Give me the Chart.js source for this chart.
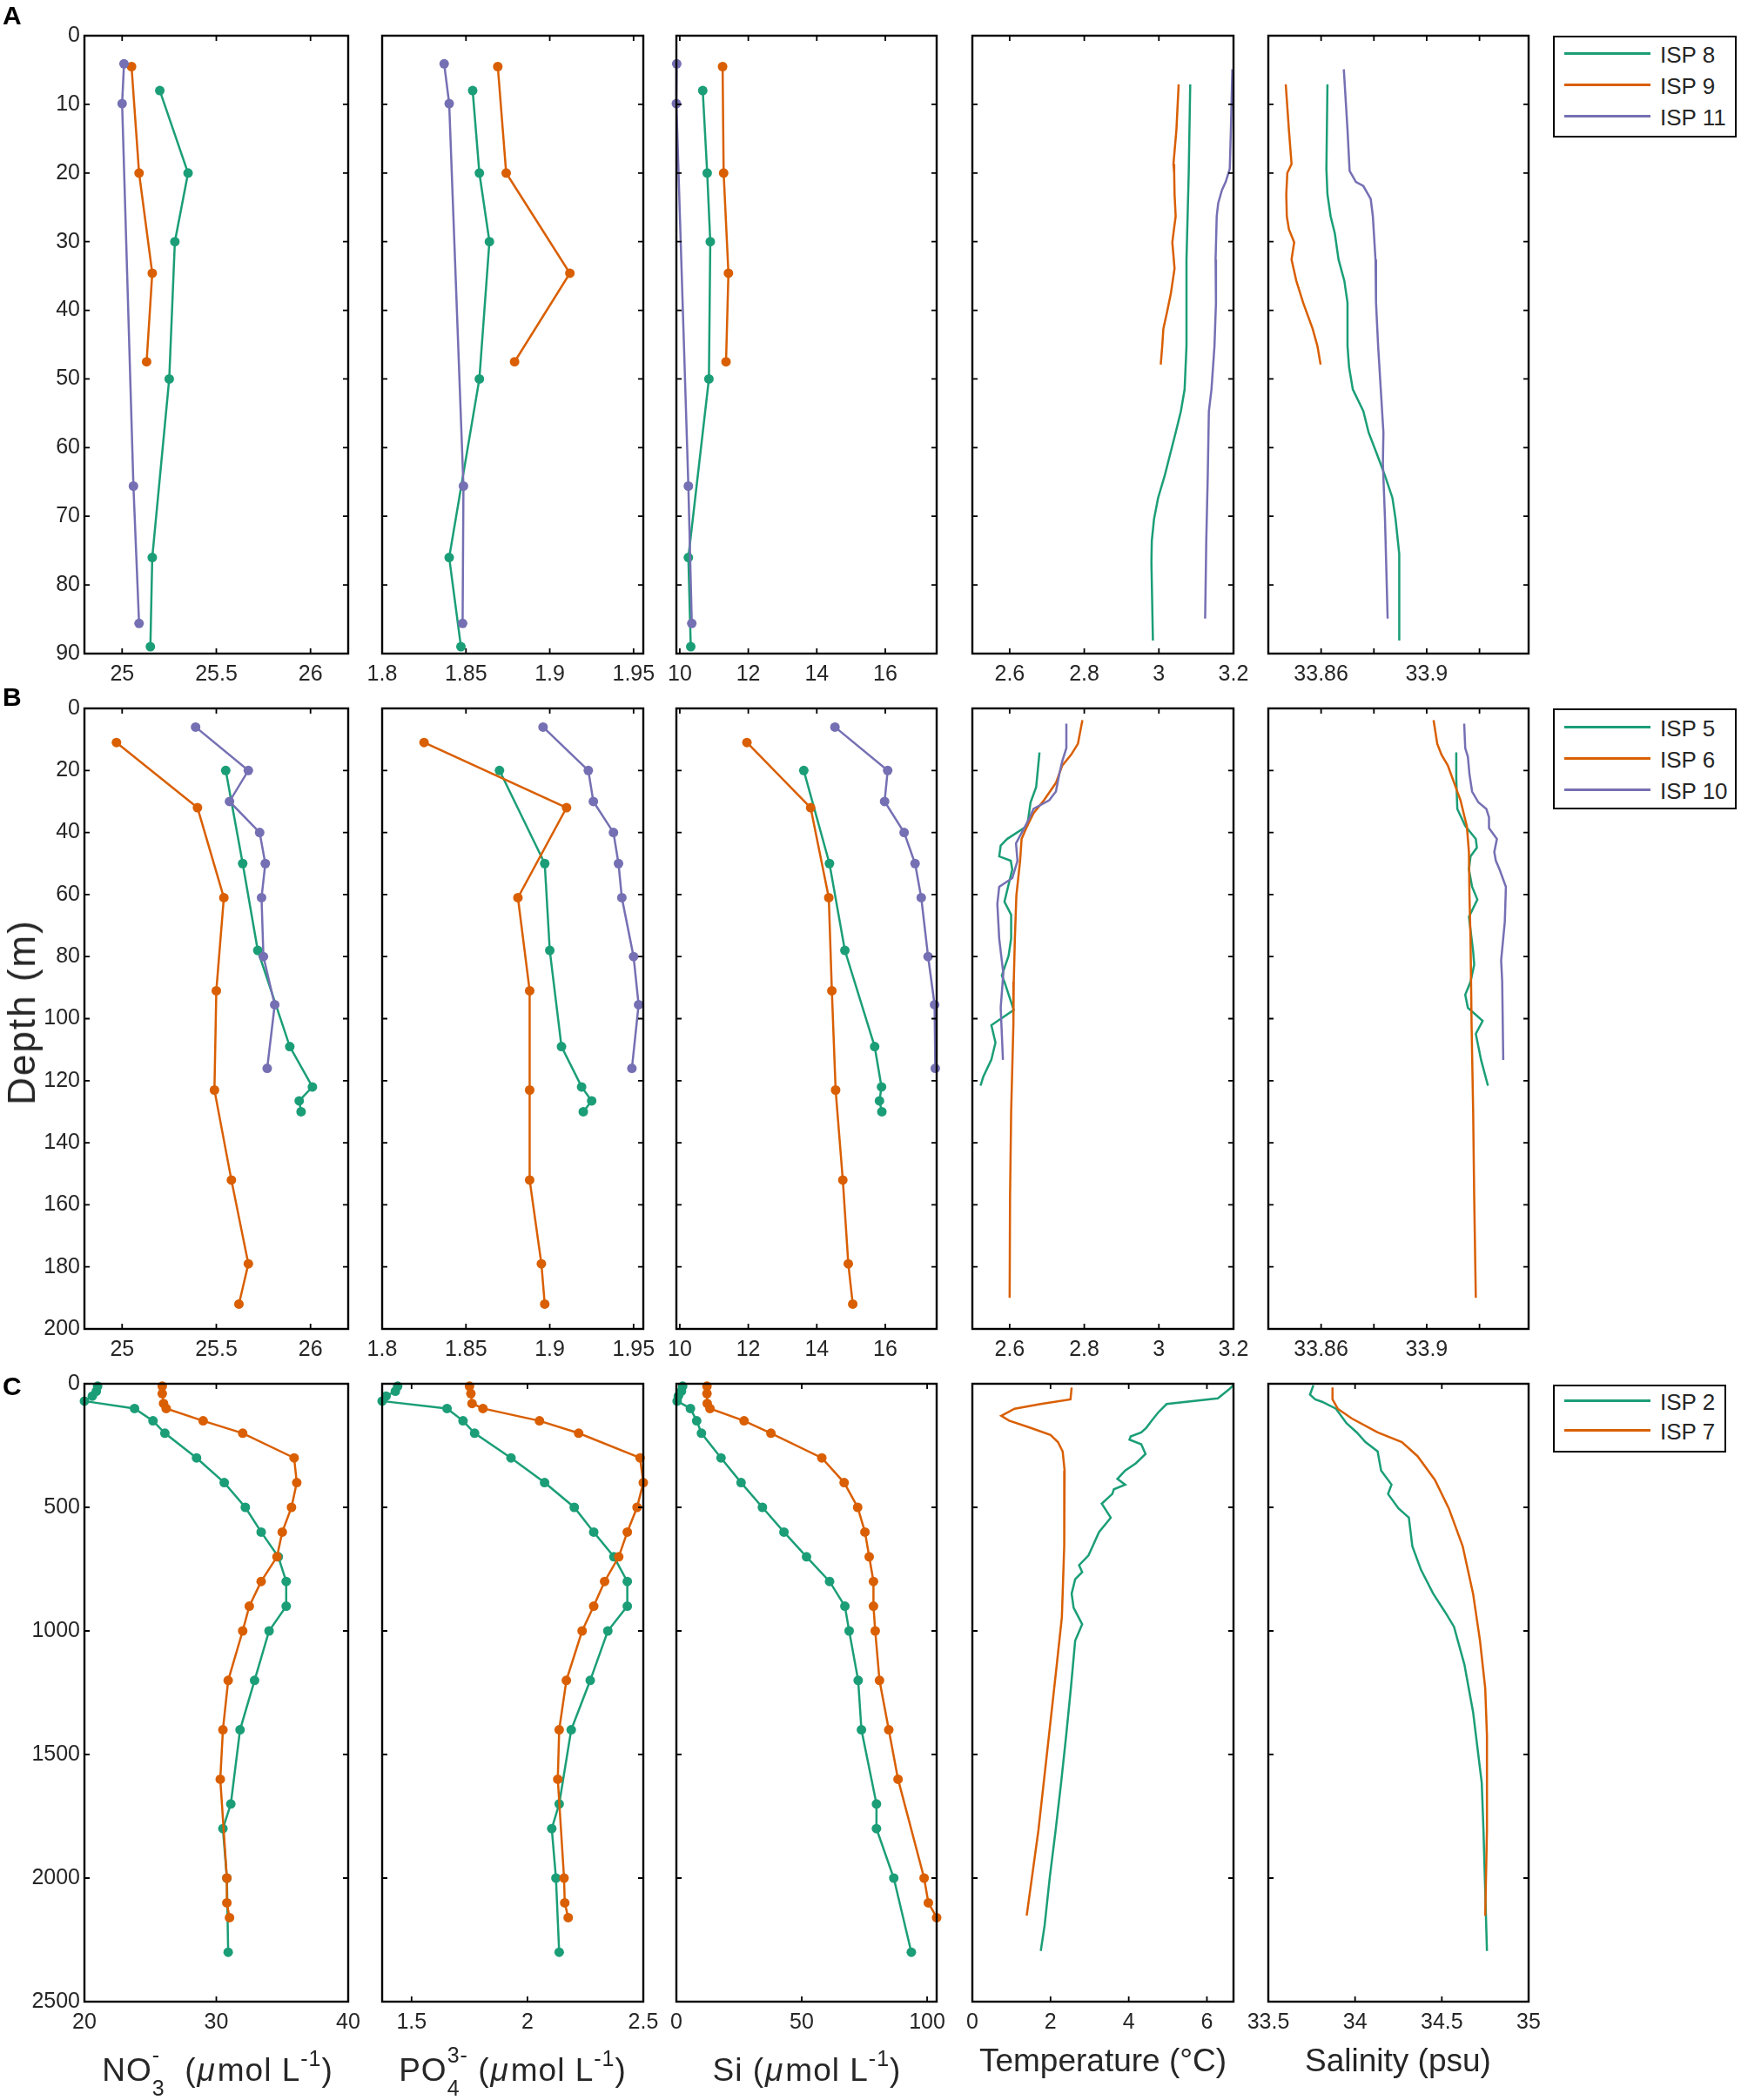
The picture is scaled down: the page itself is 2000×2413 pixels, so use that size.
<!DOCTYPE html>
<html><head><meta charset="utf-8">
<script src="https://cdn.jsdelivr.net/npm/chart.js@4.4.1/dist/chart.umd.min.js"></script>
<style>
html,body{margin:0;padding:0;background:#fff;}
body{width:2000px;height:2413px;position:relative;overflow:hidden;font-family:"Liberation Sans",Arial,Helvetica,sans-serif;color:#262626;}
.pane{position:absolute;}
.xl{position:absolute;font-size:37px;line-height:37px;white-space:pre;transform:translateX(-50%);color:#262626;}
.xn{letter-spacing:1px;}
.sb{font-size:25px;position:relative;top:17px;}
.sp{font-size:25px;position:relative;top:-21px;}
.spl{font-size:25px;position:relative;top:-17px;}
.z0{display:inline-block;width:0;white-space:nowrap;}
.mu{font-style:italic;padding:0 2px 0 1px;}
.lt{position:absolute;font-size:30px;line-height:30px;font-weight:bold;color:#000;}
.leg{position:absolute;border:2.4px solid #000;background:#fff;box-sizing:border-box;}
.leg .ln{position:absolute;height:3px;}
.leg .tx{position:absolute;font-size:26px;line-height:26px;color:#262626;white-space:nowrap;}
</style></head><body>
<script>
// ---------------- colours ----------------
const GREEN = '#1b9e77', ORANGE = '#d95f02', PURPLE = '#7570b3';

// ---------------- tick labels / ranges ----------------
const A_yTicks = [0,10,20,30,40,50,60,70,80,90];
const B_yTicks = [0,20,40,60,80,100,120,140,160,180,200];
const C_yTicks = [0,500,1000,1500,2000,2500];
const AB_NO3_ticks = [25, 25.5, 26];
const AB_PO4_ticks = [1.8, 1.85, 1.9, 1.95];
const AB_Si_ticks  = [10, 12, 14, 16];
const AB_T_ticks   = [2.6, 2.8, 3, 3.2];
const AB_S_ticks   = [33.86, 33.88, 33.9, 33.92];
const AB_S_labels  = [33.86, 33.9];
const C_NO3_ticks = [20, 30, 40];
const C_PO4_ticks = [1.5, 2, 2.5];
const C_Si_ticks  = [0, 50, 100];
const C_T_ticks   = [0, 2, 4, 6];
const C_S_ticks   = [33.5, 34, 34.5, 35];

// ---------------- stations ----------------
const A_stations = ['ISP 8', 'ISP 9', 'ISP 11'];
const B_stations = ['ISP 5', 'ISP 6', 'ISP 10'];
const C_stations = ['ISP 2', 'ISP 7'];

// ================= Row A =================
const A_ISP8_depth = [8, 20, 30, 50, 76, 89];
const A_ISP8_NO3 = [25.20, 25.35, 25.28, 25.25, 25.16, 25.15];
const A_ISP8_PO4 = [1.854, 1.858, 1.864, 1.858, 1.840, 1.847];
const A_ISP8_Si  = [10.67, 10.80, 10.89, 10.85, 10.25, 10.32];
const A_ISP9_depth = [4.5, 20, 34.6, 47.5];
const A_ISP9_NO3 = [25.05, 25.09, 25.16, 25.13];
const A_ISP9_PO4 = [1.869, 1.874, 1.912, 1.879];
const A_ISP9_Si  = [11.25, 11.28, 11.42, 11.35];
const A_ISP11_depth = [4.1, 9.9, 65.6, 85.6];
const A_ISP11_NO3 = [25.01, 25.00, 25.06, 25.09];
const A_ISP11_PO4 = [1.837, 1.840, 1.8485, 1.848];
const A_ISP11_Si  = [9.91, 9.90, 10.25, 10.35];

const A_ISP8_tDepth = [7.1, 20, 32.6, 45.2, 51.5, 54.7, 57.8, 61, 64, 67.3, 70.4, 73.6, 76.7, 88.1];
const A_ISP8_T = [3.084, 3.080, 3.074, 3.074, 3.069, 3.059, 3.045, 3.030, 3.016, 2.998, 2.987, 2.981, 2.980, 2.984];
const A_ISP9_tDepth = [7.1, 13.7, 18.7, 20, 23.1, 26.3, 28.8, 30.1, 33.9, 37.6, 40.2, 42.7, 45.2, 47.9];
const A_ISP9_T = [3.053, 3.047, 3.039, 3.041, 3.042, 3.045, 3.039, 3.036, 3.042, 3.032, 3.022, 3.012, 3.009, 3.005];
const A_ISP11_tDepth = [4.9, 13.7, 19.4, 21.3, 22.5, 24.4, 26.3, 32.6, 38.9, 45.2, 51.5, 54.7, 64.1, 73.6, 84.9];
const A_ISP11_T = [3.197, 3.193, 3.190, 3.179, 3.169, 3.159, 3.155, 3.152, 3.153, 3.149, 3.141, 3.134, 3.131, 3.127, 3.124];

const A_ISP8_sDepth = [7.1, 19.4, 23.1, 26.3, 28.8, 32.6, 35.7, 38.9, 45.2, 48.3, 51.5, 54.7, 57.8, 61, 64.1, 67.3, 70.4, 75.5, 88.1];
const A_ISP8_S = [33.8624, 33.8620, 33.8624, 33.8636, 33.8652, 33.8666, 33.8688, 33.8700, 33.8700, 33.8706, 33.8720, 33.8760, 33.8780, 33.8812, 33.8842, 33.8870, 33.8882, 33.8896, 33.8896];
const A_ISP9_sDepth = [7.1, 13.7, 18.7, 20, 23.1, 26.3, 28.2, 30.1, 32.6, 35.7, 38.9, 42.7, 45.2, 47.9];
const A_ISP9_S = [33.8466, 33.8478, 33.8488, 33.8472, 33.8468, 33.8470, 33.8478, 33.8498, 33.8488, 33.8506, 33.8532, 33.8568, 33.8586, 33.8598];
const A_ISP11_sDepth = [4.9, 13.7, 19.7, 21.3, 21.9, 23.8, 26.3, 32.6, 38.9, 45.2, 51.5, 57.8, 62.3, 70.4, 84.9];
const A_ISP11_S = [33.8686, 33.8700, 33.8708, 33.8732, 33.8760, 33.8788, 33.8796, 33.8806, 33.8808, 33.8816, 33.8826, 33.8836, 33.8834, 33.8842, 33.8852];

// ================= Row B =================
const B_ISP5_depth = [20, 50, 78, 109, 122, 126.5, 130];
const B_ISP5_NO3 = [25.55, 25.64, 25.72, 25.89, 26.01, 25.94, 25.95];
const B_ISP5_PO4 = [1.870, 1.897, 1.900, 1.907, 1.919, 1.925, 1.920];
const B_ISP5_Si  = [13.62, 14.37, 14.82, 15.69, 15.89, 15.83, 15.90];
const B_ISP6_depth = [11, 32, 61, 91, 123, 152, 179, 192];
const B_ISP6_NO3 = [24.97, 25.40, 25.54, 25.50, 25.49, 25.58, 25.67, 25.62];
const B_ISP6_PO4 = [1.825, 1.910, 1.881, 1.888, 1.888, 1.888, 1.895, 1.897];
const B_ISP6_Si  = [11.96, 13.82, 14.35, 14.44, 14.55, 14.76, 14.92, 15.05];
const B_ISP10_depth = [6, 20, 30, 40, 50, 61, 80, 95.5, 116];
const B_ISP10_NO3 = [25.39, 25.67, 25.57, 25.73, 25.76, 25.74, 25.75, 25.81, 25.77];
const B_ISP10_PO4 = [1.896, 1.923, 1.926, 1.938, 1.941, 1.943, 1.950, 1.953, 1.949];
const B_ISP10_Si  = [14.53, 16.07, 15.98, 16.55, 16.87, 17.05, 17.25, 17.44, 17.46];

const B_ISP5_tDepth = [14.2, 25.4, 30.3, 37.9, 42.1, 44.2, 47.7, 49.1, 51.9, 62.3, 66.5, 74.2, 79.8, 86.1, 88.1, 97.2, 102.1, 107.7, 113.2, 118.8, 121.6];
const B_ISP5_T = [2.680, 2.671, 2.656, 2.647, 2.593, 2.576, 2.572, 2.603, 2.607, 2.586, 2.604, 2.604, 2.597, 2.579, 2.586, 2.611, 2.551, 2.562, 2.551, 2.529, 2.522];
const B_ISP6_tDepth = [3.8, 11.4, 14.9, 18.4, 24, 29.6, 33.8, 37.9, 42.1, 49.1, 60.3, 74.2, 88.1, 102, 130, 157.9, 190];
const B_ISP6_T = [2.795, 2.783, 2.765, 2.741, 2.724, 2.692, 2.664, 2.647, 2.632, 2.628, 2.618, 2.614, 2.611, 2.610, 2.604, 2.601, 2.600];
const B_ISP10_tDepth = [4.9, 12.8, 17, 21.2, 26.8, 29.6, 32.4, 35.1, 37.9, 43.5, 49.1, 54.7, 57.5, 63, 74.2, 85.4, 96.5, 113.3];
const B_ISP10_T = [2.752, 2.752, 2.741, 2.733, 2.724, 2.706, 2.664, 2.654, 2.642, 2.617, 2.621, 2.607, 2.572, 2.567, 2.572, 2.583, 2.576, 2.582];

const B_ISP5_sDepth = [14.2, 22.6, 32.4, 37.9, 42.1, 44.9, 47.7, 51.9, 57.5, 61.6, 67.2, 78.4, 82.6, 88.1, 92.3, 96.5, 100.7, 104.9, 113.3, 121.6];
const B_ISP5_S = [33.9112, 33.9112, 33.9116, 33.9146, 33.9186, 33.9190, 33.9166, 33.9160, 33.9172, 33.9192, 33.9160, 33.9176, 33.9180, 33.9166, 33.9146, 33.9156, 33.9212, 33.9186, 33.9206, 33.9232];
const B_ISP6_sDepth = [3.8, 11.4, 14.9, 18.4, 24, 29.6, 33.8, 37.9, 46.3, 60.3, 74.2, 102, 130, 158, 190];
const B_ISP6_S = [33.9026, 33.9040, 33.9056, 33.9080, 33.9104, 33.9128, 33.9140, 33.9152, 33.9160, 33.9162, 33.9166, 33.9170, 33.9176, 33.9180, 33.9186];
const B_ISP10_sDepth = [4.9, 12.8, 15.6, 21.2, 26.8, 30.3, 32.4, 35.1, 38.6, 42.1, 46.3, 49.1, 51.9, 57.5, 68.6, 81.2, 88.1, 113.3];
const B_ISP10_S = [33.9142, 33.9146, 33.9156, 33.9162, 33.9172, 33.9196, 33.9226, 33.9236, 33.9236, 33.9266, 33.9256, 33.9262, 33.9276, 33.9300, 33.9296, 33.9282, 33.9286, 33.9290];

// ================= Row C =================
const C_ISP2_depth = [10, 30, 50, 70, 100, 150, 200, 300, 400, 500, 600, 700, 800, 900, 1000, 1200, 1400, 1700, 1800, 2000, 2300];
const C_ISP2_NO3 = [21.0, 20.9, 20.6, 20.0, 23.8, 25.2, 26.1, 28.5, 30.6, 32.2, 33.4, 34.7, 35.3, 35.3, 34.0, 32.9, 31.8, 31.1, 30.5, 30.8, 30.9];
const C_ISP2_PO4 = [1.44, 1.43, 1.39, 1.373, 1.653, 1.722, 1.772, 1.929, 2.074, 2.202, 2.286, 2.373, 2.431, 2.431, 2.347, 2.271, 2.189, 2.137, 2.105, 2.123, 2.137];
const C_ISP2_Si  = [2.5, 2.0, 0.8, 0.3, 5.6, 8.1, 10.0, 17.8, 25.8, 34.3, 42.9, 51.9, 61.1, 67.2, 68.9, 72.5, 73.8, 79.8, 79.8, 86.7, 93.7];
const C_ISP7_depth = [10, 40, 80, 100, 150, 200, 300, 400, 500, 600, 700, 800, 900, 1000, 1200, 1400, 1600, 2000, 2100, 2160];
const C_ISP7_NO3 = [25.9, 25.9, 26.0, 26.2, 29.0, 32.0, 35.9, 36.1, 35.7, 35.0, 34.6, 33.4, 32.5, 32.0, 30.9, 30.5, 30.3, 30.8, 30.8, 31.0];
const C_ISP7_PO4 = [1.750, 1.756, 1.761, 1.808, 2.052, 2.221, 2.486, 2.500, 2.473, 2.431, 2.394, 2.333, 2.286, 2.236, 2.168, 2.137, 2.131, 2.158, 2.161, 2.176];
const C_ISP7_Si  = [12.2, 12.2, 12.3, 13.4, 27.0, 37.7, 58.0, 66.9, 72.3, 75.2, 76.9, 78.6, 78.6, 79.3, 81.0, 84.7, 88.4, 98.8, 100.5, 103.8];

const C_ISP2_tDepth = [6, 25, 59, 82, 117, 149, 178, 197, 213, 226, 245, 284, 322, 351, 385, 408, 427, 446, 485, 542, 600, 657, 695, 734, 762, 791, 849, 906, 973, 1040, 1232, 1423, 1615, 1807, 1998, 2190, 2295];
const C_ISP2_T = [6.68, 6.55, 6.28, 4.97, 4.75, 4.59, 4.45, 4.32, 4.05, 4.02, 4.32, 4.43, 4.18, 3.91, 3.71, 3.91, 3.62, 3.58, 3.31, 3.54, 3.24, 3.08, 2.97, 2.73, 2.81, 2.63, 2.54, 2.59, 2.81, 2.63, 2.52, 2.40, 2.27, 2.13, 1.98, 1.85, 1.75];
const C_ISP7_tDepth = [15, 63, 82, 101, 130, 149, 178, 207, 236, 274, 351, 657, 944, 1136, 1423, 1807, 2152];
const C_ISP7_T = [2.54, 2.51, 1.75, 1.08, 0.74, 0.94, 1.48, 2.00, 2.19, 2.31, 2.36, 2.35, 2.29, 2.16, 1.96, 1.69, 1.39];

const C_ISP2_sDepth = [6, 44, 63, 73, 101, 159, 197, 236, 274, 351, 408, 446, 504, 542, 657, 753, 849, 925, 983, 1136, 1328, 1615, 1807, 2295];
const C_ISP2_S = [33.76, 33.74, 33.77, 33.81, 33.89, 33.95, 34.01, 34.06, 34.13, 34.15, 34.21, 34.19, 34.25, 34.31, 34.33, 34.38, 34.45, 34.52, 34.57, 34.63, 34.68, 34.73, 34.74, 34.76];
const C_ISP7_sDepth = [15, 63, 101, 140, 197, 236, 293, 389, 504, 657, 849, 1040, 1232, 1423, 1807, 2152];
const C_ISP7_S = [33.87, 33.87, 33.90, 33.98, 34.13, 34.27, 34.36, 34.46, 34.54, 34.62, 34.68, 34.72, 34.75, 34.76, 34.76, 34.75];

// ---------------- layout ----------------
const COL_L = [97, 439, 777, 1117, 1457];
const COL_W = [303, 300, 299, 300, 299];
const ROW_T = [41, 814, 1590];
const ROW_H = [710, 713, 710];
const PL = 80, PT = 22, PR = 36, PB = 62;

const FONT = '"Liberation Sans", Arial, Helvetica, sans-serif';

const framePlugin = {
  id: 'frame',
  afterDraw(chart) {
    const {ctx, chartArea: a, scales: {x, y}} = chart;
    const TL = 6;
    ctx.save();
    ctx.strokeStyle = '#000';
    ctx.lineWidth = 1.8;
    ctx.beginPath();
    x.ticks.forEach(t => {
      const px = x.getPixelForValue(t.value);
      ctx.moveTo(px, a.bottom); ctx.lineTo(px, a.bottom - TL);
      ctx.moveTo(px, a.top); ctx.lineTo(px, a.top + TL);
    });
    y.ticks.forEach(t => {
      const py = y.getPixelForValue(t.value);
      ctx.moveTo(a.left, py); ctx.lineTo(a.left + TL, py);
      ctx.moveTo(a.right, py); ctx.lineTo(a.right - TL, py);
    });
    ctx.stroke();
    ctx.lineWidth = 2.4;
    ctx.strokeRect(a.left, a.top, a.right - a.left, a.bottom - a.top);
    ctx.restore();
  }
};

function fmt(v) { return String(+(+v).toFixed(3)); }

function makePanel(p) {
  const w = COL_W[p.col], h = ROW_H[p.row];
  const cw = w + PL + PR, ch = h + PT + PB;
  const div = document.createElement('div');
  div.className = 'pane';
  div.style.left = (COL_L[p.col] - PL) + 'px';
  div.style.top = (ROW_T[p.row] - PT) + 'px';
  div.style.width = cw + 'px';
  div.style.height = ch + 'px';
  const cv = document.createElement('canvas');
  cv.width = cw; cv.height = ch;
  cv.style.width = cw + 'px'; cv.style.height = ch + 'px';
  div.appendChild(cv);
  document.body.appendChild(div);
  const n = p.series.length;
  const datasets = p.series.map((s, i) => ({
    data: s.y.map((d, k) => ({x: s.x[k], y: d})),
    showLine: true,
    borderColor: s.c,
    backgroundColor: s.c,
    borderWidth: 2.5,
    pointRadius: s.m ? 5.5 : 0,
    pointBackgroundColor: s.c,
    pointBorderColor: s.c,
    pointBorderWidth: 0,
    tension: 0,
    clip: false,
    order: n - i
  }));
  new Chart(cv, {
    type: 'scatter',
    data: {datasets},
    plugins: [framePlugin],
    options: {
      responsive: false,
      animation: false,
      events: [],
      layout: {padding: {left: 0, top: PT, right: PR, bottom: 0}},
      plugins: {legend: {display: false}, tooltip: {enabled: false}},
      scales: {
        x: {
          type: 'linear', position: 'bottom', min: p.xr[0], max: p.xr[1],
          afterBuildTicks: s => { s.ticks = p.xt.map(v => ({value: v})); },
          afterFit: s => { s.height = PB; },
          grid: {display: false, drawTicks: false},
          border: {display: false},
          ticks: {
            autoSkip: false, maxRotation: 0, minRotation: 0, padding: 9,
            color: '#262626', font: {family: FONT, size: 25},
            callback: v => (p.xl ? (p.xl.some(l => Math.abs(l - v) < 1e-9) ? fmt(v) : '') : fmt(v))
          }
        },
        y: {
          type: 'linear', position: 'left', reverse: true, min: p.yr[0], max: p.yr[1],
          afterBuildTicks: s => { s.ticks = p.yt.map(v => ({value: v})); },
          afterFit: s => { s.width = PL; },
          grid: {display: false, drawTicks: false},
          border: {display: false},
          ticks: {
            display: p.col === 0, autoSkip: false, padding: 5,
            color: '#262626', font: {family: FONT, size: 25},
            callback: v => fmt(v)
          }
        }
      }
    }
  });
}

const AB_NO3_range = [24.8, 26.2], AB_PO4_range = [1.8, 1.9558], AB_Si_range = [9.9, 17.5];
const AB_T_range = [2.5, 3.2], AB_S_range = [33.84, 33.9386];
const C_NO3_range = [20, 40], C_PO4_range = [1.373, 2.5], C_Si_range = [0, 103.8];
const C_T_range = [0, 6.68], C_S_range = [33.5, 35];
const A_yRange = [0, 90], B_yRange = [0, 200], C_yRange = [0, 2500];

const panels = [
  // Row A
  {row:0, col:0, xr:AB_NO3_range, xt:AB_NO3_ticks, yr:A_yRange, yt:A_yTicks, series:[
    {x:A_ISP8_NO3, y:A_ISP8_depth, c:GREEN, m:true}, {x:A_ISP9_NO3, y:A_ISP9_depth, c:ORANGE, m:true}, {x:A_ISP11_NO3, y:A_ISP11_depth, c:PURPLE, m:true}]},
  {row:0, col:1, xr:AB_PO4_range, xt:AB_PO4_ticks, yr:A_yRange, yt:A_yTicks, series:[
    {x:A_ISP8_PO4, y:A_ISP8_depth, c:GREEN, m:true}, {x:A_ISP9_PO4, y:A_ISP9_depth, c:ORANGE, m:true}, {x:A_ISP11_PO4, y:A_ISP11_depth, c:PURPLE, m:true}]},
  {row:0, col:2, xr:AB_Si_range, xt:AB_Si_ticks, yr:A_yRange, yt:A_yTicks, series:[
    {x:A_ISP8_Si, y:A_ISP8_depth, c:GREEN, m:true}, {x:A_ISP9_Si, y:A_ISP9_depth, c:ORANGE, m:true}, {x:A_ISP11_Si, y:A_ISP11_depth, c:PURPLE, m:true}]},
  {row:0, col:3, xr:AB_T_range, xt:AB_T_ticks, yr:A_yRange, yt:A_yTicks, series:[
    {x:A_ISP8_T, y:A_ISP8_tDepth, c:GREEN}, {x:A_ISP9_T, y:A_ISP9_tDepth, c:ORANGE}, {x:A_ISP11_T, y:A_ISP11_tDepth, c:PURPLE}]},
  {row:0, col:4, xr:AB_S_range, xt:AB_S_ticks, xl:AB_S_labels, yr:A_yRange, yt:A_yTicks, series:[
    {x:A_ISP8_S, y:A_ISP8_sDepth, c:GREEN}, {x:A_ISP9_S, y:A_ISP9_sDepth, c:ORANGE}, {x:A_ISP11_S, y:A_ISP11_sDepth, c:PURPLE}]},
  // Row B
  {row:1, col:0, xr:AB_NO3_range, xt:AB_NO3_ticks, yr:B_yRange, yt:B_yTicks, series:[
    {x:B_ISP5_NO3, y:B_ISP5_depth, c:GREEN, m:true}, {x:B_ISP6_NO3, y:B_ISP6_depth, c:ORANGE, m:true}, {x:B_ISP10_NO3, y:B_ISP10_depth, c:PURPLE, m:true}]},
  {row:1, col:1, xr:AB_PO4_range, xt:AB_PO4_ticks, yr:B_yRange, yt:B_yTicks, series:[
    {x:B_ISP5_PO4, y:B_ISP5_depth, c:GREEN, m:true}, {x:B_ISP6_PO4, y:B_ISP6_depth, c:ORANGE, m:true}, {x:B_ISP10_PO4, y:B_ISP10_depth, c:PURPLE, m:true}]},
  {row:1, col:2, xr:AB_Si_range, xt:AB_Si_ticks, yr:B_yRange, yt:B_yTicks, series:[
    {x:B_ISP5_Si, y:B_ISP5_depth, c:GREEN, m:true}, {x:B_ISP6_Si, y:B_ISP6_depth, c:ORANGE, m:true}, {x:B_ISP10_Si, y:B_ISP10_depth, c:PURPLE, m:true}]},
  {row:1, col:3, xr:AB_T_range, xt:AB_T_ticks, yr:B_yRange, yt:B_yTicks, series:[
    {x:B_ISP5_T, y:B_ISP5_tDepth, c:GREEN}, {x:B_ISP6_T, y:B_ISP6_tDepth, c:ORANGE}, {x:B_ISP10_T, y:B_ISP10_tDepth, c:PURPLE}]},
  {row:1, col:4, xr:AB_S_range, xt:AB_S_ticks, xl:AB_S_labels, yr:B_yRange, yt:B_yTicks, series:[
    {x:B_ISP5_S, y:B_ISP5_sDepth, c:GREEN}, {x:B_ISP6_S, y:B_ISP6_sDepth, c:ORANGE}, {x:B_ISP10_S, y:B_ISP10_sDepth, c:PURPLE}]},
  // Row C
  {row:2, col:0, xr:C_NO3_range, xt:C_NO3_ticks, yr:C_yRange, yt:C_yTicks, series:[
    {x:C_ISP2_NO3, y:C_ISP2_depth, c:GREEN, m:true}, {x:C_ISP7_NO3, y:C_ISP7_depth, c:ORANGE, m:true}]},
  {row:2, col:1, xr:C_PO4_range, xt:C_PO4_ticks, yr:C_yRange, yt:C_yTicks, series:[
    {x:C_ISP2_PO4, y:C_ISP2_depth, c:GREEN, m:true}, {x:C_ISP7_PO4, y:C_ISP7_depth, c:ORANGE, m:true}]},
  {row:2, col:2, xr:C_Si_range, xt:C_Si_ticks, yr:C_yRange, yt:C_yTicks, series:[
    {x:C_ISP2_Si, y:C_ISP2_depth, c:GREEN, m:true}, {x:C_ISP7_Si, y:C_ISP7_depth, c:ORANGE, m:true}]},
  {row:2, col:3, xr:C_T_range, xt:C_T_ticks, yr:C_yRange, yt:C_yTicks, series:[
    {x:C_ISP2_T, y:C_ISP2_tDepth, c:GREEN}, {x:C_ISP7_T, y:C_ISP7_tDepth, c:ORANGE}]},
  {row:2, col:4, xr:C_S_range, xt:C_S_ticks, yr:C_yRange, yt:C_yTicks, series:[
    {x:C_ISP2_S, y:C_ISP2_sDepth, c:GREEN}, {x:C_ISP7_S, y:C_ISP7_sDepth, c:ORANGE}]}
];
panels.forEach(makePanel);

// ---------------- legends ----------------
function makeLegend(top, height, width, first, step, names, colors) {
  const d = document.createElement('div');
  d.className = 'leg';
  d.style.left = '1784px'; d.style.top = top + 'px';
  d.style.width = width + 'px'; d.style.height = height + 'px';
  names.forEach((nm, i) => {
    const cy = first + i * step;
    const ln = document.createElement('div');
    ln.className = 'ln';
    ln.style.left = '11px'; ln.style.width = '99px';
    ln.style.top = (cy - 1.5 - 2.4) + 'px';
    ln.style.background = colors[i];
    d.appendChild(ln);
    const tx = document.createElement('div');
    tx.className = 'tx';
    tx.style.left = '121px';
    tx.style.top = (cy - 13 - 2.4 + 1) + 'px';
    tx.textContent = nm;
    d.appendChild(tx);
  });
  document.body.appendChild(d);
}
makeLegend(41, 117, 211, 21, 36, A_stations, [GREEN, ORANGE, PURPLE]);
makeLegend(814, 116, 211, 22, 36, B_stations, [GREEN, ORANGE, PURPLE]);
makeLegend(1591, 78, 199, 19, 34, C_stations, [GREEN, ORANGE]);
</script>

<div class="lt" style="left:3px;top:3px">A</div>
<div class="lt" style="left:3px;top:786px">B</div>
<div class="lt" style="left:3px;top:1578px">C</div>

<div style="position:absolute;left:25px;top:1163px;font-size:44px;line-height:44px;letter-spacing:2px;white-space:pre;color:#262626;transform:translate(-50%,-50%) rotate(-90deg);">Depth (m)</div>

<div class="xl xn" style="left:250px;top:2360px">NO<span class="z0"><span class="sp">-</span></span><span class="sb">3</span>  (<span class="mu">μ</span>mol L<span class="spl">-1</span>)</div>
<div class="xl xn" style="left:589px;top:2360px">PO<span class="z0"><span class="sb">4</span></span><span class="sp">3-</span> (<span class="mu">μ</span>mol L<span class="spl">-1</span>)</div>
<div class="xl xn" style="left:927px;top:2360px">Si (<span class="mu">μ</span>mol L<span class="spl">-1</span>)</div>
<div class="xl" style="left:1267px;top:2349px">Temperature (°C)</div>
<div class="xl" style="left:1606px;top:2349px">Salinity (psu)</div>
</body></html>
